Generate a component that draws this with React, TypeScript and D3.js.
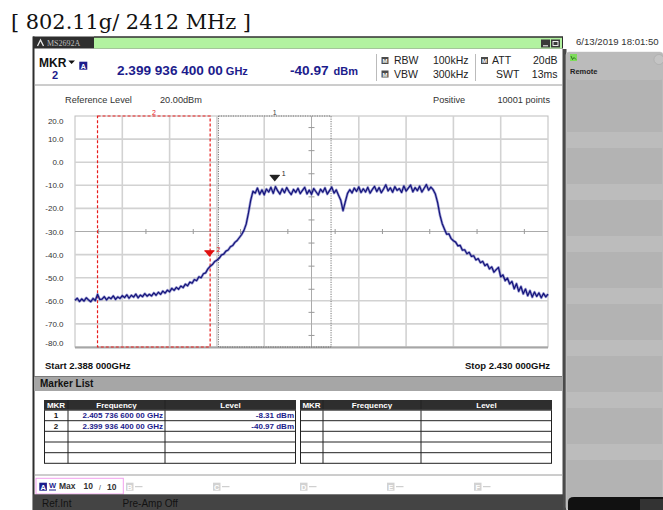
import React from "react";
import * as d3 from "d3";

// ---------------- data ----------------
const SWEEP_START_MHZ = 2388;
const SWEEP_STOP_MHZ = 2430;
const SWEEP_STEP_MHZ = 0.2;
const REF_LEVEL_DBM = 20;
const BOTTOM_LEVEL_DBM = -80;
const FREQ_DIVISIONS = 10;
const levelTicks = [20, 10, 0, -10, -20, -30, -40, -50, -60, -70, -80];

// trace (dBm), one value per 0.2 MHz from 2388 to 2430 MHz
const traceLevels = [
  -59.8, -58.9, -60.3, -59.2, -60.1, -58.7, -59.6, -60.4, -59.0, -59.9,
  -57.2, -59.4, -59.3, -58.2, -59.6, -58.5, -59.1, -57.9, -59.4, -58.3,
  -59.0, -57.8, -58.6, -57.4, -58.9, -57.6, -58.4, -57.1, -58.7, -57.5,
  -58.2, -56.9, -58.0, -57.2, -57.9, -56.6, -57.6, -56.3, -57.2, -55.8,
  -56.7, -55.4, -56.1, -54.6, -55.5, -54.2, -55.0, -53.6, -54.3, -52.8,
  -53.5, -51.9, -52.4, -50.8, -51.3, -49.6, -50.0, -48.3, -47.9, -46.2,
  -45.1, -44.3, -43.0, -42.4, -41.6, -40.2, -39.8, -38.5, -38.0, -36.6,
  -36.1, -34.7, -33.9, -32.6, -31.3, -29.5, -26.8, -22.0, -16.5, -12.6,
  -13.4, -11.2, -13.9, -12.0, -14.1, -11.6, -12.9, -10.9, -13.5, -10.6,
  -12.4, -13.8, -11.5, -13.2, -11.0, -12.7, -14.0, -11.8, -13.1, -11.3,
  -13.6, -12.2, -10.9, -13.7, -12.1, -13.9, -11.4, -12.8, -14.2, -11.7,
  -13.0, -11.1, -13.8, -12.3, -10.8, -13.4, -12.0, -14.3, -16.5, -21.0,
  -17.2, -13.5, -11.9, -13.3, -11.2, -12.6, -10.7, -13.1, -11.5, -12.9,
  -10.9, -13.4, -11.8, -10.5, -12.7, -11.0, -13.2, -11.6, -9.8, -12.4,
  -11.1, -13.0, -10.6, -12.2, -11.4, -13.1, -10.3, -12.5, -11.2, -9.9,
  -12.8, -11.0, -12.3, -10.4, -12.9, -11.3, -9.7, -12.1, -10.8, -11.9,
  -13.8, -17.5, -22.8, -26.5, -28.9, -31.2, -31.0, -33.1, -34.0, -34.6,
  -36.2, -36.0, -38.1, -37.9, -39.6, -39.0, -40.8, -40.5, -42.3, -41.7,
  -43.5, -42.9, -44.8, -44.1, -46.2, -45.3, -47.6, -46.5, -45.5, -49.6,
  -48.8, -51.3, -50.2, -52.7, -51.6, -54.8, -52.6, -55.9, -53.8, -57.0,
  -54.9, -57.8, -55.6, -58.4, -56.2, -58.1, -56.6, -58.7, -56.8, -58.3,
  -57.1,
];

const markerIds = ["1", "2"];
const markerFreqMHz = [2405.7366, 2399.9364];
const markerLevelDbm = [-8.31, -40.97];
const markerFreqLabels = ["2.405 736 600 00 GHz", "2.399 936 400 00 GHz"];
const markerLevelLabels = ["-8.31 dBm", "-40.97 dBm"];
const activeMarker = 1;

const zoneIds = ["2", "1"];
const zoneStartMHz = [2390, 2400.7366];
const zoneStopMHz = [2400, 2410.7366];

const titleText = "[ 802.11g/ 2412 MHz ]";
const dateText = "6/13/2019 18:01:50";
const traceSlots = ["B", "C", "D", "E", "F"];

// ---------------- drawing ----------------
const SANS = "'Liberation Sans', Arial, Helvetica, sans-serif";
const NAVY = "#1c1c8c";

export default function App() {
  const L = 75, R = 548, T = 116, B = 347;
  const x = d3.scaleLinear().domain([SWEEP_START_MHZ, SWEEP_STOP_MHZ]).range([L, R]);
  const y = d3.scaleLinear().domain([BOTTOM_LEVEL_DBM, REF_LEVEL_DBM]).range([B, T]);
  const freqOf = (i: number) => SWEEP_START_MHZ + i * SWEEP_STEP_MHZ;
  const line = d3
    .line<number>()
    .x((_, i) => x(freqOf(i)))
    .y((d) => y(d));
  const tracePath = line(traceLevels) || "";

  const divW = (SWEEP_STOP_MHZ - SWEEP_START_MHZ) / FREQ_DIVISIONS;
  const vGrid = d3.range(1, FREQ_DIVISIONS).map((k) => SWEEP_START_MHZ + k * divW);
  const centerF = SWEEP_START_MHZ + 5 * divW;
  const centerL = -30;
  const halfF = d3.range(FREQ_DIVISIONS).map((k) => SWEEP_START_MHZ + (k + 0.5) * divW);
  const halfL = d3.range(10).map((k) => REF_LEVEL_DBM - 5 - 10 * k);

  const hdrFreq = markerFreqLabels[activeMarker];
  const hdrFreqNum = hdrFreq.slice(0, hdrFreq.lastIndexOf(" "));
  const hdrFreqUnit = hdrFreq.slice(hdrFreq.lastIndexOf(" ") + 1);

  const rowYs = [410, 420.7, 431.3, 442, 452.7, 463.3];
  const leftCols = [44, 68, 165, 296];
  const rightCols = [300, 323, 421, 552];

  const table = (cols: number[], filled: boolean) => (
    <g>
      <rect x={cols[0]} y={400} width={cols[3] - cols[0]} height={10} fill="#2e2e2e" />
      {["MKR", "Frequency", "Level"].map((t, j) => (
        <text key={t} x={(cols[j] + cols[j + 1]) / 2} y={408.3} fontSize={8} fontWeight="bold" fill="#fff" textAnchor="middle" fontFamily={SANS}>{t}</text>
      ))}
      <rect x={cols[0] + 0.5} y={410} width={cols[3] - cols[0] - 1} height={53.3} fill="#fff" stroke="#222" strokeWidth={1} />
      {rowYs.slice(1, 5).map((ry) => (
        <line key={ry} x1={cols[0]} x2={cols[3]} y1={ry} y2={ry} stroke="#222" strokeWidth={1} />
      ))}
      {[cols[1], cols[2]].map((cx) => (
        <line key={cx} x1={cx} x2={cx} y1={400} y2={463.3} stroke="#222" strokeWidth={1} />
      ))}
      <line x1={cols[0]} x2={cols[3]} y1={410} y2={410} stroke="#555" strokeWidth={1} />
      {filled &&
        markerIds.map((id, i) => (
          <g key={id} fontFamily={SANS} fontSize={8} fontWeight="bold">
            <text x={(cols[0] + cols[1]) / 2} y={rowYs[i] + 8} textAnchor="middle" fill="#111">{id}</text>
            <text x={cols[2] - 2} y={rowYs[i] + 8} textAnchor="end" fill={NAVY}>{markerFreqLabels[i]}</text>
            <text x={cols[3] - 2} y={rowYs[i] + 8} textAnchor="end" fill={NAVY}>{markerLevelLabels[i]}</text>
          </g>
        ))}
    </g>
  );

  return (
    <svg width={663} height={510} style={{ position: "absolute", left: 0, top: 0, display: "block" }} fontFamily={SANS}>
      <rect width={663} height={510} fill="#fff" />
      {/* title */}
      <text x={11} y={29} fontFamily="'DejaVu Serif', 'Liberation Serif', serif" fontSize={21} fill="#111" textLength={240} lengthAdjust="spacingAndGlyphs">{titleText}</text>

      {/* right soft-key panel */}
      <text x={576} y={44.5} fontSize={9.6} fill="#333">{dateText}</text>
      <rect x={562.5} y={49} width={4} height={461} fill="#4a4a4a" />
      <rect x={566} y={52} width={97} height={458} rx={3} fill="#b3b3b3" stroke="#d0d0d0" strokeWidth={0.6} />
      <rect x={566.5} y={53} width={96.5} height={27} rx={3} fill="#bbbbbb" />
      {[132, 184, 236, 288, 340, 392, 444].map((by) => (
        <rect key={by} x={566.5} y={by} width={96.5} height={16} fill="#bcbcbc" />
      ))}
      <rect x={570} y={54} width={7} height={7} fill="#7ddc5a" />
      <path d="M571,56 L572.5,59.5 L574,57.5 L576,59.5" fill="none" stroke="#1a5a10" strokeWidth={0.8} />
      <text x={570} y={74} fontSize={7.5} fontWeight="bold" fill="#222">Remote</text>
      <circle cx={659} cy={59.5} r={5} fill="#c4c4c4" stroke="#a8a8a8" strokeWidth={0.6} />
      <path d="M568,510 L568,502 Q568,497 574,497 L663,497 L663,510 Z" fill="#111" />
      <rect x={640} y={499} width={23} height={11} fill="#333" />

      {/* main instrument window */}
      <rect x={33} y={36.5} width={530} height={12} fill="#2e2e2e" />
      <rect x={94} y={37.5} width={468} height={11} fill="#b2f2a0" />
      <line x1={94} x2={563} y1={37} y2={37} stroke="#333" strokeWidth={1} />
      <path d="M37.5,46 L40.5,40 L43.5,46" fill="none" stroke="#e8e8e8" strokeWidth={1.3} />
      <text x={47} y={46} fontSize={8} fontFamily="'Liberation Serif', serif" fill="#bdbdbd">MS2692A</text>
      <rect x={541} y={39.5} width={9} height={8} fill="#3a3a3a" />
      <line x1={543} x2={548} y1={45.8} y2={45.8} stroke="#fff" strokeWidth={1} />
      <rect x={551} y={39.5} width={9} height={8} fill="#3a3a3a" />
      <rect x={553} y={41.5} width={5} height={4} fill="none" stroke="#fff" strokeWidth={0.9} />
      <line x1={33.5} x2={33.5} y1={36.5} y2={510} stroke="#2e2e2e" strokeWidth={2} />

      {/* header */}
      <text x={39} y={67.3} fontSize={12} fontWeight="bold" fill="#111">MKR</text>
      <path d="M68.3,60.5 L75,60.5 L71.6,64 Z" fill="#111" />
      <text x={55} y={79.2} fontSize={11} fontWeight="bold" fill={NAVY} textAnchor="middle">{markerIds[activeMarker]}</text>
      <rect x={79.3} y={61.7} width={8} height={8} fill={NAVY} />
      <text x={83.3} y={68.5} fontSize={7} fontWeight="bold" fill="#fff" textAnchor="middle">A</text>
      <text x={117} y={75} fontSize={13.6} fontWeight="bold" fill={NAVY}>
        {hdrFreqNum}
        <tspan fontSize={11} dx={3}>{hdrFreqUnit}</tspan>
      </text>
      <text x={290} y={75} fontSize={13.6} fontWeight="bold" fill={NAVY}>
        {markerLevelDbm[activeMarker].toFixed(2)}
        <tspan fontSize={11} dx={5}>dBm</tspan>
      </text>
      <line x1={376.5} x2={376.5} y1={54} y2={81} stroke="#bbb" strokeWidth={1} />
      <line x1={475.5} x2={475.5} y1={54} y2={81} stroke="#bbb" strokeWidth={1} />
      {[
        [381.5, 57, "RBW", 394, "100kHz"],
        [381.5, 70.5, "VBW", 394, "300kHz"],
      ].map(([ix, iy, lab, lx, val]) => (
        <g key={lab as string}>
          <rect x={ix as number} y={iy as number} width={7} height={7} fill="#4a4a4a" />
          <text x={(ix as number) + 3.5} y={(iy as number) + 6} fontSize={6} fontWeight="bold" fill="#fff" textAnchor="middle">M</text>
          <text x={lx as number} y={(iy as number) + 7.3} fontSize={10.5} fill="#222">{lab}</text>
          <text x={468.5} y={(iy as number) + 7.3} fontSize={10.5} fill="#222" textAnchor="end">{val}</text>
        </g>
      ))}
      <rect x={481} y={57} width={7} height={7} fill="#4a4a4a" />
      <text x={484.5} y={63} fontSize={6} fontWeight="bold" fill="#fff" textAnchor="middle">M</text>
      <text x={492} y={64.3} fontSize={10.5} fill="#222">ATT</text>
      <text x={557.5} y={64.3} fontSize={10.5} fill="#222" textAnchor="end">20dB</text>
      <text x={496} y={77.8} fontSize={10.5} fill="#222">SWT</text>
      <text x={557.5} y={77.8} fontSize={10.5} fill="#222" textAnchor="end">13ms</text>
      <line x1={34} x2={563} y1={85} y2={85} stroke="#9a9a9a" strokeWidth={1} />

      <text x={65} y={103} fontSize={9.2} fill="#333">Reference Level</text>
      <text x={160} y={103} fontSize={9.2} fill="#333">{REF_LEVEL_DBM.toFixed(2)}dBm</text>
      <text x={433} y={103} fontSize={9.2} fill="#333">Positive</text>
      <text x={550} y={103} fontSize={9.2} fill="#333" textAnchor="end">10001 points</text>

      {/* plot grid */}
      <rect x={L} y={T} width={R - L} height={B - T} fill="#fff" stroke="#bdbdbd" strokeWidth={1} />
      {levelTicks.filter((v) => v !== REF_LEVEL_DBM && v !== BOTTOM_LEVEL_DBM && v !== centerL).map((v) => (
        <line key={v} x1={L} x2={R} y1={y(v)} y2={y(v)} stroke="#d2d2d2" strokeWidth={1.6} />
      ))}
      {vGrid.filter((f) => Math.abs(f - centerF) > 1e-6).map((f) => (
        <line key={f} x1={x(f)} x2={x(f)} y1={T} y2={B} stroke="#d2d2d2" strokeWidth={1.6} />
      ))}
      <line x1={L} x2={R} y1={y(centerL)} y2={y(centerL)} stroke="#ababab" strokeWidth={1} />
      <line x1={x(centerF)} x2={x(centerF)} y1={T} y2={B} stroke="#ababab" strokeWidth={1} />
      {halfF.map((f) => (
        <line key={f} x1={x(f)} x2={x(f)} y1={y(centerL) - 2.5} y2={y(centerL) + 2.5} stroke="#9a9a9a" strokeWidth={1} />
      ))}
      {halfL.map((v) => (
        <line key={v} x1={x(centerF) - 3} x2={x(centerF) + 3} y1={y(v)} y2={y(v)} stroke="#9a9a9a" strokeWidth={1} />
      ))}
      <line x1={L} x2={R} y1={B + 0.5} y2={B + 0.5} stroke="#a6a6a6" strokeWidth={2} />
      {levelTicks.map((v) => {
        const yy = Math.min(Math.max(y(v), 120.7), 343.3);
        return (
          <text key={v} x={63.5} y={yy + 3} fontSize={8} fill="#333" textAnchor="end">{v.toFixed(1)}</text>
        );
      })}

      {/* zones */}
      {zoneIds.map((id, i) => {
        const red = id === "2";
        const c = red ? "#e81c1c" : "#666";
        const x0 = x(zoneStartMHz[i]);
        const x1 = x(zoneStopMHz[i]);
        return (
          <g key={id}>
            <rect x={x0} y={T} width={x1 - x0} height={B - T} fill="none" stroke={c} strokeWidth={red ? 1.2 : 0.9} strokeDasharray={red ? "3,2" : "1.2,1.2"} />
            <text x={(x0 + x1) / 2} y={115} fontSize={7} fill={red ? "#e81c1c" : "#444"} textAnchor="middle">{id}</text>
          </g>
        );
      })}

      {/* trace */}
      <path d={tracePath} fill="none" stroke="#3a3aa8" strokeWidth={2.6} strokeOpacity={0.5} strokeLinejoin="round" />
      <path d={tracePath} fill="none" stroke="#14147a" strokeWidth={1.2} strokeLinejoin="round" />

      {/* markers */}
      {markerIds.map((id, i) => {
        const mx = x(markerFreqMHz[i]);
        const my = y(markerLevelDbm[i]);
        const c = i === activeMarker ? "#e01010" : "#222";
        return (
          <g key={id}>
            <path d={`M${mx - 5},${my - 6} L${mx + 5},${my - 6} L${mx},${my} Z`} fill={c} />
            <line x1={mx - 5} x2={mx + 5} y1={my - 6} y2={my - 6} stroke={c} strokeWidth={1.2} />
            <text x={mx + 7} y={my - 5} fontSize={7} fill={c}>{id}</text>
          </g>
        );
      })}

      <text x={45} y={369.3} fontSize={9.5} fontWeight="bold" fill="#111">Start 2.388 000GHz</text>
      <text x={550} y={369.3} fontSize={9.5} fontWeight="bold" fill="#111" textAnchor="end">Stop 2.430 000GHz</text>

      {/* marker list */}
      <line x1={34} x2={562} y1={376.5} y2={376.5} stroke="#7a7a7a" strokeWidth={1} />
      <rect x={34} y={377} width={528} height={14} fill="#a6a6a6" />
      <text x={40} y={387} fontSize={10} fontWeight="bold" fill="#111">Marker List</text>
      {table(leftCols, true)}
      {table(rightCols, false)}
      <line x1={34} x2={562} y1={475} y2={475} stroke="#9a9a9a" strokeWidth={1} />

      {/* trace status row */}
      <rect x={36} y={478.3} width={87.3} height={15.7} fill="#fff" stroke="#f2a0ee" strokeWidth={1} />
      <rect x={39.3} y={482.7} width={7.6} height={8} fill={NAVY} />
      <text x={43.1} y={489.6} fontSize={7.5} fontWeight="bold" fill="#fff" textAnchor="middle">A</text>
      <text x={52.5} y={487.5} fontSize={7.5} fontWeight="bold" fill={NAVY} textAnchor="middle">W</text>
      <line x1={49} x2={56} y1={490} y2={490} stroke={NAVY} strokeWidth={1} />
      <text x={59} y={488.5} fontSize={8.5} fontWeight="bold" fill="#333">Max</text>
      <text x={83.5} y={488.5} fontSize={8.5} fontWeight="bold" fill="#333">10</text>
      <text x={99} y={490} fontSize={6.5} fill="#333">/</text>
      <text x={107} y={490} fontSize={8.5} fontWeight="bold" fill="#333">10</text>
      {traceSlots.map((s, i) => {
        const sx = 126 + i * 87;
        return (
          <g key={s}>
            <rect x={sx} y={482.7} width={7.5} height={8} fill="#d2d2d2" />
            <text x={sx + 3.75} y={489.6} fontSize={7.5} fontWeight="bold" fill="#fff" textAnchor="middle">{s}</text>
            <line x1={sx + 9} x2={sx + 16.5} y1={486.7} y2={486.7} stroke="#c4c4c4" strokeWidth={1} />
          </g>
        );
      })}

      {/* bottom status bar */}
      <rect x={33} y={494.3} width={530} height={15.7} fill="#444444" />
      <text x={42} y={506.5} fontSize={10} fill="#121212">Ref.Int</text>
      <text x={122.5} y={506.5} fontSize={10} fill="#121212">Pre-Amp Off</text>
    </svg>
  );
}
